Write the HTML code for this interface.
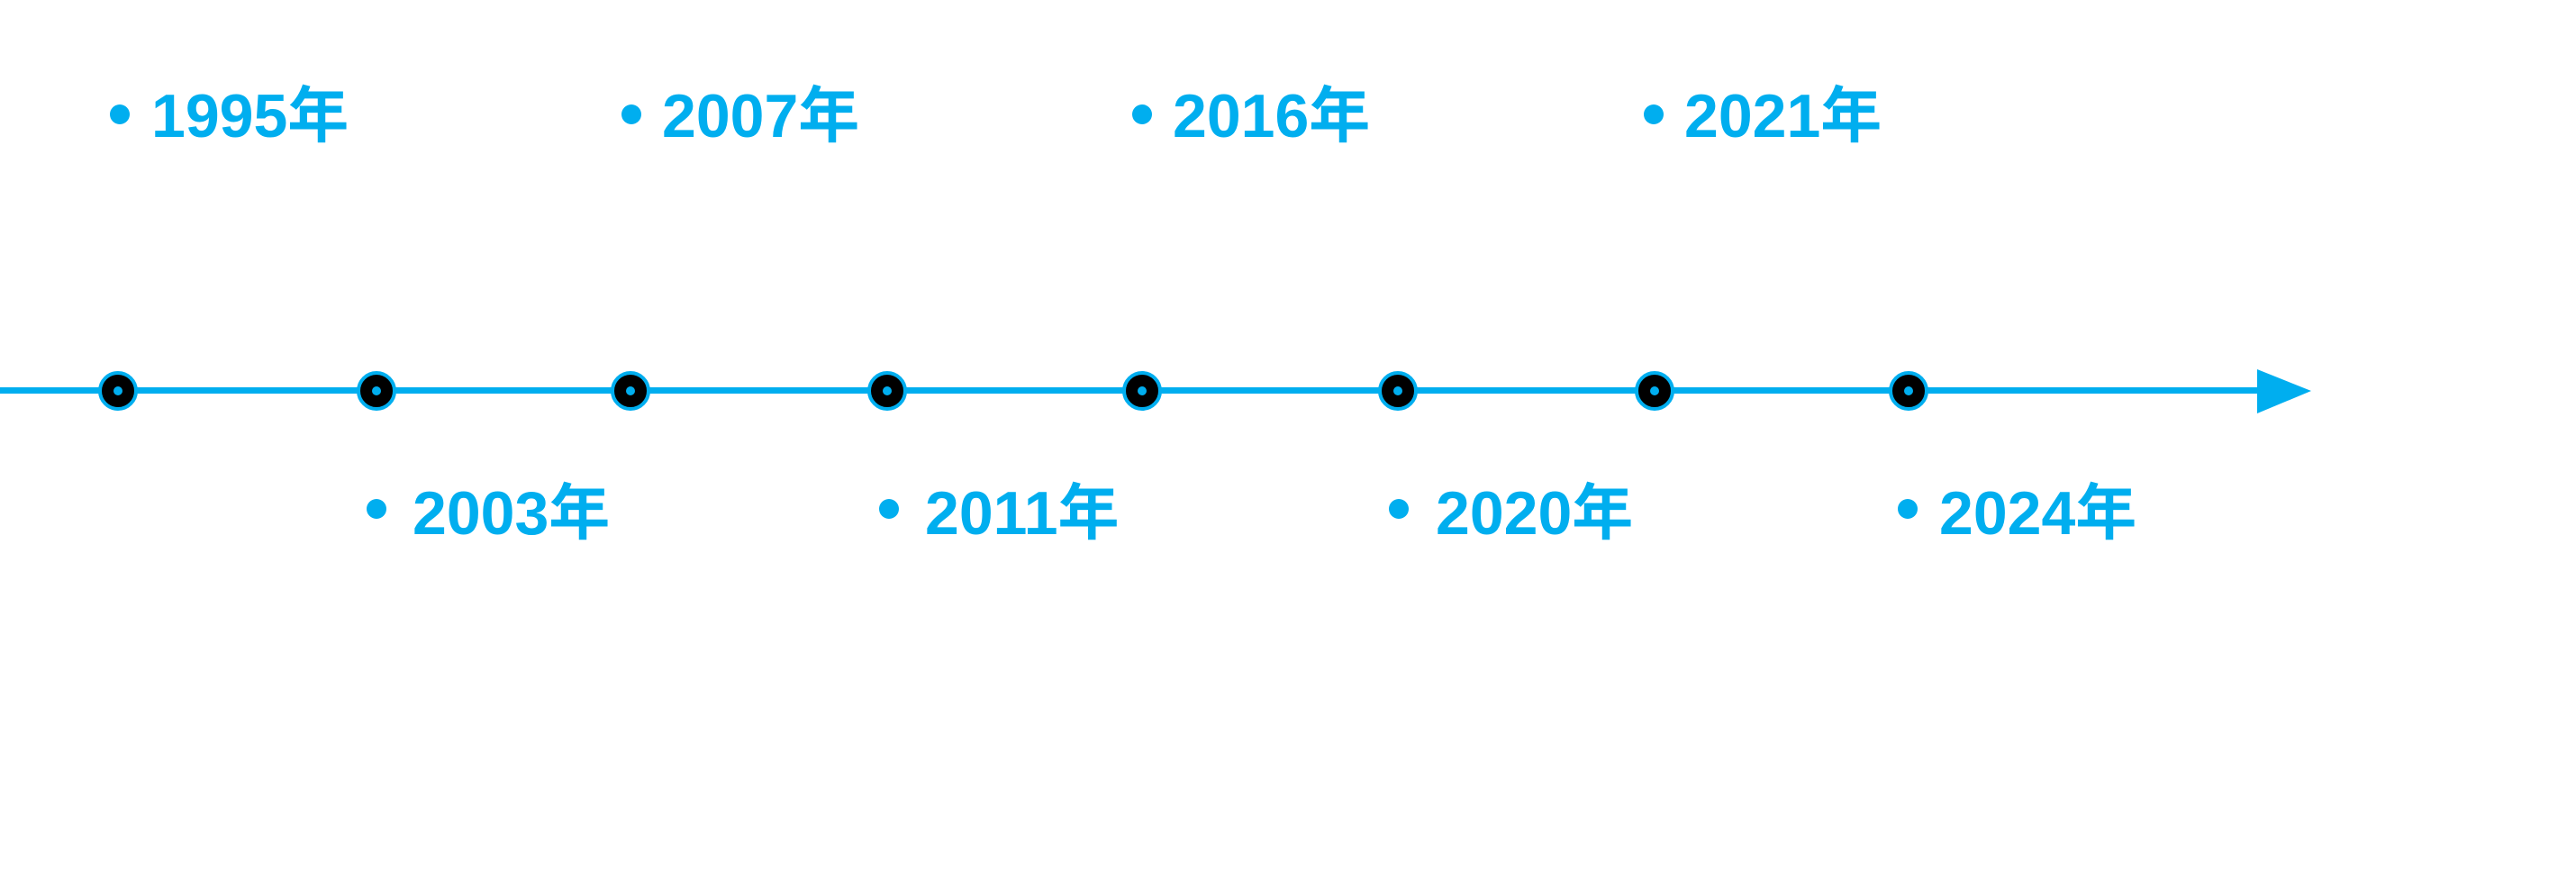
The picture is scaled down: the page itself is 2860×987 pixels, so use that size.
<!DOCTYPE html>
<html><head><meta charset="utf-8"><style>html,body{margin:0;padding:0;background:#fff;}svg{display:block}</style></head>
<body>
<svg width="2860" height="987" viewBox="0 0 2860 987" xmlns="http://www.w3.org/2000/svg">
<g fill="#00AEEF">
<rect x="0" y="430" width="2520" height="7"/>
<polygon points="2506,410 2566,434 2506,459"/>
</g>
<g stroke="#00AEEF" stroke-width="4" fill="#000">
<circle cx="131" cy="434" r="20"/>
<circle cx="418" cy="434" r="20"/>
<circle cx="700" cy="434" r="20"/>
<circle cx="985" cy="434" r="20"/>
<circle cx="1268" cy="434" r="20"/>
<circle cx="1552" cy="434" r="20"/>
<circle cx="1837" cy="434" r="20"/>
<circle cx="2119" cy="434" r="20"/>
</g>
<g fill="#00AEEF">
<circle cx="131" cy="434" r="5"/>
<circle cx="418" cy="434" r="5"/>
<circle cx="700" cy="434" r="5"/>
<circle cx="985" cy="434" r="5"/>
<circle cx="1268" cy="434" r="5"/>
<circle cx="1552" cy="434" r="5"/>
<circle cx="1837" cy="434" r="5"/>
<circle cx="2119" cy="434" r="5"/>
<circle cx="133" cy="127" r="11"/>
<circle cx="701" cy="127" r="11"/>
<circle cx="1268" cy="127" r="11"/>
<circle cx="1836" cy="127" r="11"/>
<circle cx="418" cy="565" r="11"/>
<circle cx="987" cy="565" r="11"/>
<circle cx="1553" cy="565" r="11"/>
<circle cx="2118" cy="565" r="11"/>
</g>
<g fill="#00AEEF" font-family="'Liberation Sans','Noto Sans CJK SC',sans-serif" font-weight="bold" font-size="68">
<text x="168" y="152">1995年</text>
<text x="735" y="152">2007年</text>
<text x="1302" y="152">2016年</text>
<text x="1870" y="152">2021年</text>
<text x="458" y="593">2003年</text>
<text x="1027" y="593">2011年</text>
<text x="1594" y="593">2020年</text>
<text x="2153" y="593">2024年</text>
</g>
</svg>
</body></html>
